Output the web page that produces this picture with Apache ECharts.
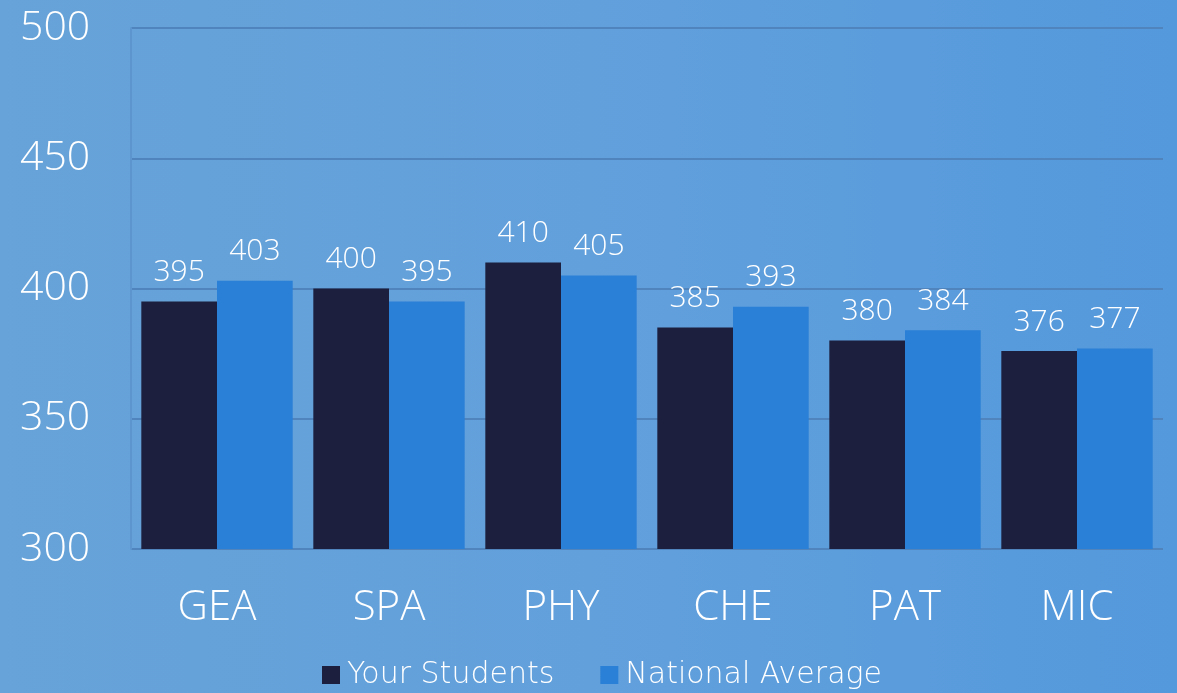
<!DOCTYPE html>
<html>
<head>
<meta charset="utf-8">
<script src="https://cdn.jsdelivr.net/npm/echarts@6/dist/echarts.min.js"></script>
<style>
  html, body { margin: 0; padding: 0; }
  #chart { width: 1177px; height: 693px; }
</style>
</head>
<body>
<div id="chart"></div>
<script>
let categories = ['GEA', 'SPA', 'PHY', 'CHE', 'PAT', 'MIC']
let yourStudents = [395, 400, 410, 385, 380, 376]
let nationalAverage = [403, 395, 405, 393, 384, 377]
let seriesNames = ['Your Students', 'National Average']

let labelFont = '"Open Sans", sans-serif'

let chart = echarts.init(document.querySelector('#chart'))
let option = {
    backgroundColor: new echarts.graphic.LinearGradient(0, 0, 1, 0, [
        { offset: 0, color: '#67a3d8' },
        { offset: 0.5, color: '#62a0dc' },
        { offset: 1, color: '#5499dc' }
    ]),
    textStyle: { fontFamily: labelFont },
    legend: {
        bottom: -2,
        left: 317,
        itemWidth: 18,
        itemHeight: 18,
        itemGap: 46,
        icon: 'rect',
        textStyle: { color: '#ffffff', fontSize: 30, fontFamily: '"DejaVu Sans", sans-serif', fontWeight: 200, padding: [0, 0, 0, 2] },
        data: seriesNames
    },
    grid: { left: 131, right: 14, top: 28, bottom: 144 },
    xAxis: {
        type: 'category',
        data: categories,
        axisLine: { show: false },
        axisTick: { show: false },
        axisLabel: { color: '#ffffff', fontSize: 42, fontWeight: 300, margin: 38 }
    },
    yAxis: {
        type: 'value',
        min: 300,
        max: 500,
        interval: 50,
        axisLine: { show: true, lineStyle: { color: '#5d96cf', width: 2 } },
        axisTick: { show: false },
        splitLine: { lineStyle: { color: '#4f84bd', width: 2 } },
        axisLabel: { color: '#ffffff', fontSize: 41, fontWeight: 300, margin: 111, align: 'left' }
    },
    series: [
        {
            name: seriesNames[0],
            type: 'bar',
            data: yourStudents,
            barGap: '0%',
            barCategoryGap: '12%',
            itemStyle: { color: '#1c1f3d' },
            label: { show: true, position: 'top', color: '#ffffff', fontSize: 30, fontWeight: 300, distance: 14 }
        },
        {
            name: seriesNames[1],
            type: 'bar',
            data: nationalAverage,
            itemStyle: { color: '#2a7fd6' },
            label: { show: true, position: 'top', color: '#ffffff', fontSize: 30, fontWeight: 300, distance: 14 }
        }
    ]
}
chart.setOption(option)
</script>
</body>
</html>
